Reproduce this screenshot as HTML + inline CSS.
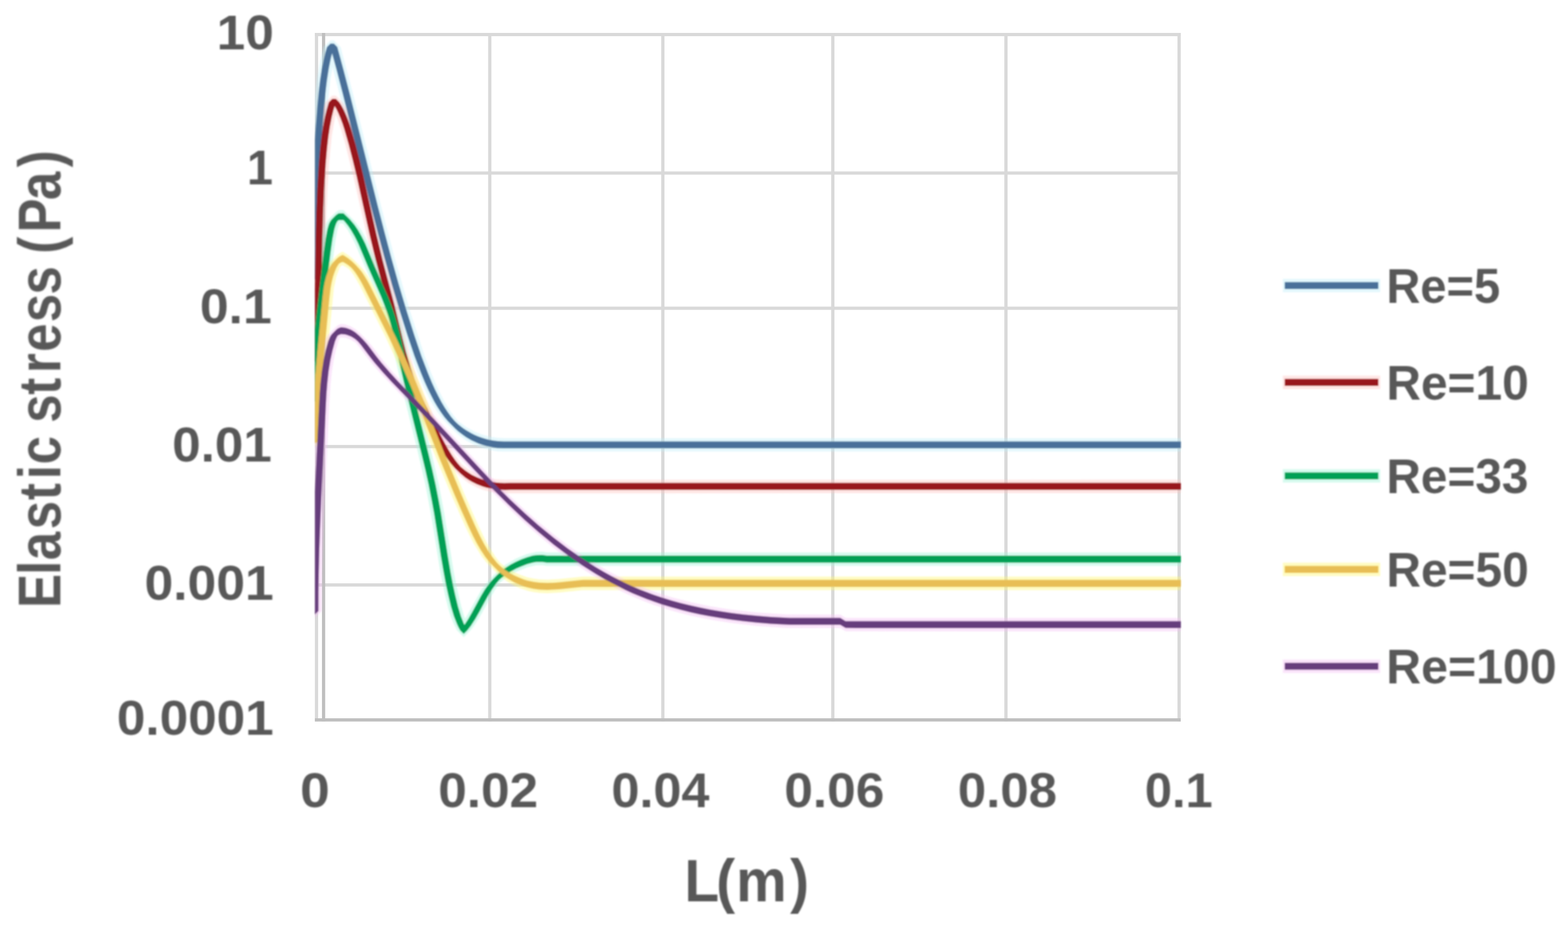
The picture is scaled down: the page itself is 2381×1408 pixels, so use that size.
<!DOCTYPE html>
<html lang="en"><head><meta charset="utf-8"><title>Elastic stress vs L(m)</title>
<style>html,body{margin:0;padding:0;background:#fff}body{width:2381px;height:1408px;overflow:hidden}svg{display:block}text{font-family:'Liberation Sans', sans-serif;font-weight:bold;fill:#595959}</style></head><body>
<svg xmlns="http://www.w3.org/2000/svg" width="2381" height="1408" viewBox="0 0 2381 1408">
<defs><filter id="soft" x="-2%" y="-2%" width="104%" height="104%"><feGaussianBlur stdDeviation="0.8"/></filter></defs>
<rect width="2381" height="1408" fill="#fff"/>
<g fill="#d9d9d9"><rect x="478.2" y="50.0" width="1314.7" height="4.9"/><rect x="478.2" y="260.4" width="1314.7" height="4.9"/><rect x="478.2" y="465.7" width="1314.7" height="4.9"/><rect x="478.2" y="675.8" width="1314.7" height="4.9"/><rect x="478.2" y="886.0" width="1314.7" height="4.9"/><rect x="478.2" y="50.0" width="4.9" height="1045.9"/><rect x="741.3" y="50.0" width="4.9" height="1045.9"/><rect x="1004.1" y="50.0" width="4.9" height="1045.9"/><rect x="1262.2" y="50.0" width="4.9" height="1045.9"/><rect x="1525.1" y="50.0" width="4.9" height="1045.9"/><rect x="1788.0" y="50.0" width="4.9" height="1045.9"/></g>
<g fill="#bfbfbf"><rect x="478.2" y="1091.0" width="1314.7" height="4.9"/><rect x="488.9" y="50.0" width="4.9" height="1045.9"/></g>
<g filter="url(#soft)">
<clipPath id="plot"><rect x="478.3" y="40" width="1314.8" height="1060"/></clipPath>
<g clip-path="url(#plot)">
<g fill-opacity="0.42">
<path d="M467.0 359.4L477.2 349.2L487.4 359.4L487.7 420.0L477.5 430.2L467.3 420.0ZM467.0 359.4L468.4 299.1L478.6 288.9L488.8 299.1L487.4 359.4L477.2 369.6ZM468.4 299.1L471.7 232.8L481.9 222.7L492.1 232.8L488.8 299.1L478.6 309.3ZM471.7 232.8L476.9 160.5L487.1 150.3L497.3 160.5L492.1 232.8L481.9 243.1ZM476.9 160.5L481.1 121.4L491.3 111.2L501.5 121.4L497.3 160.5L487.1 170.7ZM481.1 121.4L486.9 88.9L497.1 78.7L507.2 88.9L501.5 121.4L491.3 131.6ZM486.9 88.9L491.6 71.5L501.8 61.3L512.0 71.5L507.2 88.9L497.1 99.1ZM491.6 71.5L501.8 61.3L507.0 61.3L517.2 71.5L507.0 81.7L501.8 81.7ZM496.8 71.5L507.0 61.3L517.2 71.5L536.5 144.2L526.2 154.3L516.0 144.2ZM516.0 144.2L526.2 133.9L536.5 144.2L578.7 313.3L568.5 323.5L558.3 313.3ZM558.3 313.3L568.5 303.1L578.7 313.3L599.2 391.8L589.0 402.0L578.9 391.8ZM578.9 391.8L589.0 381.6L599.2 391.8L622.6 472.8L612.4 482.9L602.2 472.8ZM602.2 472.8L612.4 462.6L622.6 472.8L645.1 541.5L634.9 551.6L624.7 541.5ZM624.7 541.5L634.9 531.2L645.1 541.5L654.8 566.8L644.6 577.0L634.4 566.8ZM634.4 566.8L644.6 556.6L654.8 566.8L665.6 591.7L655.4 601.9L645.2 591.7ZM645.2 591.7L655.4 581.5L665.6 591.7L675.2 610.5L665.0 620.7L654.8 610.5ZM654.8 610.5L665.0 600.3L675.2 610.5L684.7 625.8L674.5 636.0L664.3 625.8ZM664.3 625.8L674.5 615.5L684.7 625.8L695.6 639.7L685.4 649.9L675.2 639.7ZM675.2 639.7L685.4 629.5L695.9 639.8L706.1 650.0L695.9 660.2L685.4 649.9ZM685.7 650.0L695.9 639.8L707.8 648.6L718.0 658.8L707.8 669.0L695.9 660.2ZM697.6 658.8L707.8 648.6L720.9 655.7L731.0 665.9L720.9 676.1L707.8 669.0ZM710.6 665.9L720.9 655.7L732.0 660.1L742.2 670.3L732.0 680.5L720.9 676.1ZM721.8 670.3L732.0 660.1L743.6 663.2L753.8 673.4L743.6 683.6L732.0 680.5ZM733.4 673.4L743.6 663.2L755.7 665.0L765.9 675.2L755.7 685.4L743.6 683.6ZM745.5 675.2L755.7 665.0L765.0 665.4L775.2 675.6L765.0 685.8L755.7 685.4ZM754.8 675.6L765.0 665.4L1800.0 665.4L1810.2 675.6L1800.0 685.8L765.0 685.8Z" fill="#bfeefa"/>
<path d="M469.8 545.0L472.4 478.9L482.6 468.8L492.8 478.9L490.2 545.0L480.0 555.2ZM472.4 478.9L475.2 325.1L485.4 314.9L495.6 325.1L492.8 478.9L482.6 489.1ZM475.2 325.1L476.8 286.0L487.0 275.8L497.2 286.0L495.6 325.1L485.4 335.4ZM476.8 286.0L479.0 250.0L489.2 239.8L499.4 250.0L497.2 286.0L487.0 296.2ZM479.0 250.0L483.1 208.1L493.3 197.9L503.5 208.1L499.4 250.0L489.2 260.2ZM483.1 208.1L488.1 178.6L498.3 168.4L508.5 178.6L503.5 208.1L493.3 218.3ZM488.1 178.6L494.3 155.5L504.5 145.3L514.7 155.5L508.5 178.6L498.3 188.8ZM494.3 155.5L504.5 145.3L510.0 145.3L520.2 155.5L510.0 165.7L504.5 165.7ZM499.8 155.5L510.0 145.3L520.2 155.5L526.4 165.8L516.2 176.0L506.0 165.8ZM506.0 165.8L516.2 155.6L526.4 165.8L532.5 179.4L522.3 189.6L512.1 179.4ZM512.1 179.4L522.3 169.2L532.5 179.4L538.4 196.4L528.2 206.6L518.0 196.4ZM518.0 196.4L528.2 186.2L538.4 196.4L545.0 219.5L534.8 229.7L524.6 219.5ZM524.6 219.5L534.8 209.3L545.0 219.5L556.7 266.3L546.5 276.5L536.3 266.3ZM536.3 266.3L546.5 256.1L556.7 266.3L586.1 395.5L575.9 405.7L565.7 395.5ZM565.7 395.5L575.9 385.3L586.1 395.5L603.7 462.3L593.5 472.5L583.3 462.3ZM583.3 462.3L593.5 452.1L603.7 462.3L621.5 535.2L611.3 545.4L601.1 535.2ZM601.1 535.2L611.3 525.0L621.5 535.2L628.2 558.2L618.0 568.5L607.8 558.2ZM607.8 558.2L618.0 548.0L628.2 558.2L635.0 578.1L624.8 588.3L614.6 578.1ZM614.6 578.1L624.8 567.9L635.0 578.1L644.1 600.2L633.9 610.4L623.7 600.2ZM623.7 600.2L633.9 590.0L644.1 600.2L656.9 627.5L646.7 637.7L636.5 627.5ZM636.5 627.5L646.7 617.3L656.9 627.5L680.5 673.5L670.3 683.8L660.1 673.5ZM660.1 673.5L670.3 663.4L680.5 673.5L691.2 691.8L681.0 702.0L670.8 691.8ZM670.8 691.8L681.0 681.6L691.2 691.8L699.9 703.8L689.7 714.0L679.5 703.8ZM679.5 703.8L689.7 693.6L699.9 703.8L709.9 714.4L699.7 724.6L689.5 714.4ZM689.5 714.4L699.7 704.2L711.3 713.1L721.5 723.3L711.3 733.5L699.7 724.6ZM701.1 723.3L711.3 713.1L724.3 720.1L734.5 730.3L724.3 740.5L711.3 733.5ZM714.1 730.3L724.3 720.1L732.7 723.3L742.9 733.5L732.7 743.7L724.3 740.5ZM722.5 733.5L732.7 723.3L744.5 726.4L754.6 736.6L744.5 746.8L732.7 743.7ZM734.2 736.6L744.5 726.4L753.5 727.9L763.7 738.1L753.5 748.3L744.5 746.8ZM743.3 738.1L753.5 727.9L765.8 728.8L776.0 739.0L765.8 749.2L753.5 748.3ZM755.6 739.0L765.8 728.8L1800.0 728.6L1810.2 738.8L1800.0 749.0L765.8 749.2Z" fill="#ffc4c0"/>
<path d="M468.6 562.8L478.8 552.6L489.0 562.8L489.2 605.0L479.0 615.2L468.8 605.0ZM468.6 562.8L471.8 511.9L482.0 501.7L492.2 511.9L489.0 562.8L478.8 573.0ZM471.8 511.9L486.4 383.7L496.6 373.5L506.8 383.7L492.2 511.9L482.0 522.1ZM486.4 383.7L489.4 362.8L499.6 352.6L509.8 362.8L506.8 383.7L496.6 393.9ZM489.4 362.8L492.3 347.9L502.5 337.8L512.7 347.9L509.8 362.8L499.6 373.0ZM492.3 347.9L495.0 339.5L505.2 329.3L515.4 339.5L512.7 347.9L502.5 358.1ZM495.0 339.5L499.6 332.5L509.8 322.3L520.0 332.5L515.4 339.5L505.2 349.7ZM499.6 332.5L509.8 322.3L514.5 318.9L524.7 329.1L514.5 339.3L509.8 342.7ZM504.3 329.1L514.5 318.9L521.5 318.9L531.7 329.1L521.5 339.3L514.5 339.3ZM511.3 329.1L521.5 318.9L531.7 329.1L539.8 337.4L529.6 347.6L519.4 337.4ZM519.4 337.4L529.6 327.2L539.8 337.4L548.4 349.2L538.2 359.4L528.0 349.2ZM528.0 349.2L538.2 339.0L548.4 349.2L554.2 359.4L544.0 369.6L533.9 359.4ZM533.9 359.4L544.0 349.2L554.2 359.4L559.5 370.1L549.3 380.3L539.1 370.1ZM539.1 370.1L549.3 359.9L559.5 370.1L594.2 450.6L584.0 460.8L573.8 450.6ZM573.8 450.6L584.0 440.4L594.2 450.6L602.7 472.9L592.5 483.1L582.3 472.9ZM582.3 472.9L592.5 462.7L602.7 472.9L608.8 492.9L598.6 503.1L588.4 492.9ZM588.4 492.9L598.6 482.7L608.8 492.9L614.6 516.2L604.4 526.4L594.2 516.2ZM594.2 516.2L604.4 506.0L614.6 516.2L629.5 583.7L619.3 593.9L609.1 583.7ZM609.1 583.7L619.3 573.5L629.5 583.7L655.4 688.8L645.2 699.0L635.0 688.8ZM635.0 688.8L645.2 678.5L655.4 688.8L666.2 735.6L656.0 745.8L645.8 735.6ZM645.8 735.6L656.0 725.4L666.2 735.6L674.7 779.9L664.5 790.1L654.3 779.9ZM654.3 779.9L664.5 769.7L674.7 779.9L689.1 869.2L679.0 879.4L668.8 869.2ZM668.8 869.2L679.0 859.0L689.1 869.2L696.3 904.4L686.1 914.6L675.9 904.4ZM675.9 904.4L686.1 894.2L696.3 904.4L700.5 921.8L690.3 932.0L680.1 921.8ZM680.1 921.8L690.3 911.6L700.5 921.8L704.8 936.0L694.6 946.2L684.4 936.0ZM684.4 936.0L694.6 925.9L704.8 936.0L709.1 947.1L698.9 957.3L688.7 947.1ZM688.7 947.1L698.9 936.9L709.1 947.1L714.4 957.6L704.2 967.8L694.0 957.6ZM694.0 957.6L699.5 950.5L709.7 940.3L719.9 950.5L714.4 957.6L704.2 967.8ZM699.5 950.5L706.0 940.5L716.2 930.3L726.4 940.5L719.9 950.5L709.7 960.7ZM706.0 940.5L731.0 895.9L741.2 885.7L751.5 895.9L726.4 940.5L716.2 950.7ZM731.0 895.9L738.0 886.3L748.1 876.1L758.4 886.3L751.5 895.9L741.2 906.1ZM738.0 886.3L745.9 877.4L756.1 867.2L766.3 877.4L758.4 886.3L748.1 896.5ZM745.9 877.4L756.1 867.2L767.8 857.6L778.0 867.8L767.8 878.0L756.1 887.6ZM757.6 867.8L767.8 857.6L783.8 848.2L794.0 858.5L783.8 868.6L767.8 878.0ZM773.6 858.5L783.8 848.2L800.4 841.4L810.6 851.5L800.4 861.8L783.8 868.6ZM790.2 851.5L800.4 841.4L814.5 838.2L824.8 848.5L814.5 858.6L800.4 861.8ZM804.4 848.5L814.5 838.2L823.6 838.1L833.8 848.4L823.6 858.5L814.5 858.6ZM813.4 848.4L823.6 838.1L830.0 839.0L840.2 849.2L830.0 859.4L823.6 858.5ZM819.8 849.2L830.0 839.0L1800.0 839.0L1810.2 849.2L1800.0 859.4L830.0 859.4Z" fill="#9ff5d8"/>
<path d="M469.3 668.0L470.1 628.8L480.3 618.6L490.5 628.8L489.7 668.0L479.5 678.2ZM470.1 628.8L472.7 584.0L482.9 573.8L493.1 584.0L490.5 628.8L480.3 639.0ZM472.7 584.0L477.1 533.5L487.3 523.3L497.5 533.5L493.1 584.0L482.9 594.2ZM477.1 533.5L486.6 437.2L496.8 427.0L507.0 437.2L497.5 533.5L487.3 543.7ZM486.6 437.2L490.4 419.8L500.6 409.6L510.8 419.8L507.0 437.2L496.8 447.4ZM490.4 419.8L495.7 406.1L505.9 395.9L516.1 406.1L510.8 419.8L500.6 430.0ZM495.7 406.1L498.7 401.2L508.9 391.0L519.1 401.2L516.1 406.1L505.9 416.3ZM498.7 401.2L502.5 396.9L512.7 386.7L522.9 396.9L519.1 401.2L508.9 411.4ZM502.5 396.9L512.7 386.7L517.5 383.4L527.7 393.6L517.5 403.8L512.7 407.1ZM507.3 393.6L517.5 383.4L520.4 382.3L530.6 392.5L520.4 402.7L517.5 403.8ZM510.2 392.5L520.4 382.3L528.2 386.9L538.4 397.1L528.2 407.3L520.4 402.7ZM518.0 397.1L528.2 386.9L535.0 392.4L545.2 402.6L535.0 412.8L528.2 407.3ZM524.8 402.6L535.0 392.4L545.2 402.6L551.1 408.9L540.9 419.1L530.7 408.9ZM530.7 408.9L540.9 398.7L551.1 408.9L558.0 418.4L547.8 428.6L537.6 418.4ZM537.6 418.4L547.8 408.2L558.0 418.4L566.9 434.1L556.7 444.3L546.5 434.1ZM546.5 434.1L556.7 423.9L566.9 434.1L606.1 512.2L595.9 522.4L585.7 512.2ZM585.7 512.2L595.9 502.0L606.1 512.2L621.2 544.9L611.0 555.1L600.8 544.9ZM600.8 544.9L611.0 534.7L621.2 544.9L636.7 580.8L626.5 591.0L616.3 580.8ZM616.3 580.8L626.5 570.6L636.7 580.8L684.7 700.8L674.5 711.0L664.3 700.8ZM664.3 700.8L674.5 690.6L684.7 700.8L705.3 750.4L695.1 760.6L684.9 750.4ZM684.9 750.4L695.1 740.2L705.3 750.4L727.2 800.3L717.0 810.5L706.8 800.3ZM706.8 800.3L717.0 790.1L727.2 800.3L739.4 825.0L729.2 835.2L719.0 825.0ZM719.0 825.0L729.2 814.8L739.4 825.0L752.1 845.4L741.9 855.6L731.7 845.4ZM731.7 845.4L741.9 835.2L752.1 845.4L759.5 854.7L749.3 864.9L739.1 854.7ZM739.1 854.7L749.3 844.5L759.5 854.7L765.6 861.1L755.4 871.3L745.2 861.1ZM745.2 861.1L755.4 850.9L761.9 856.8L772.1 867.0L761.9 877.1L755.4 871.3ZM751.7 867.0L761.9 856.8L771.5 863.7L781.7 873.9L771.5 884.1L761.9 877.1ZM761.3 873.9L771.5 863.7L781.8 869.5L792.0 879.7L781.8 889.9L771.5 884.1ZM771.6 879.7L781.8 869.5L789.9 873.1L800.1 883.3L789.9 893.5L781.8 889.9ZM779.7 883.3L789.9 873.1L801.2 876.9L811.4 887.1L801.2 897.3L789.9 893.5ZM791.0 887.1L801.2 876.9L810.0 878.8L820.2 889.0L810.0 899.2L801.2 897.3ZM799.8 889.0L810.0 878.8L818.9 880.0L829.1 890.2L818.9 900.4L810.0 899.2ZM808.7 890.2L818.9 880.0L831.0 880.5L841.2 890.7L831.0 900.9L818.9 900.4ZM820.8 890.7L831.0 880.5L849.3 879.5L859.5 889.7L849.3 899.9L831.0 900.9ZM839.1 889.7L849.3 879.5L885.0 875.8L895.2 886.0L885.0 896.2L849.3 899.9ZM874.8 886.0L885.0 875.8L1800.0 875.8L1810.2 886.0L1800.0 896.2L885.0 896.2Z" fill="#fff870"/>
<path d="M468.1 928.0L468.6 867.8L478.9 857.5L489.1 867.8L488.5 928.0L478.3 938.2ZM468.6 867.8L470.7 801.9L480.9 791.7L491.1 801.9L489.1 867.8L478.9 878.0ZM470.7 801.9L479.4 615.7L489.6 605.5L499.8 615.7L491.1 801.9L480.9 812.1ZM479.4 615.7L481.6 582.5L491.8 572.3L502.0 582.5L499.8 615.7L489.6 625.9ZM481.6 582.5L483.6 564.6L493.8 554.4L503.9 564.6L502.0 582.5L491.8 592.7ZM483.6 564.6L486.3 546.9L496.5 536.7L506.7 546.9L503.9 564.6L493.8 574.8ZM486.3 546.9L489.4 532.4L499.6 522.2L509.9 532.4L506.7 546.9L496.5 557.1ZM489.4 532.4L493.4 518.2L503.6 508.0L513.8 518.2L509.9 532.4L499.6 542.6ZM493.4 518.2L495.6 512.9L505.8 502.7L516.0 512.9L513.8 518.2L503.6 528.4ZM495.6 512.9L498.4 508.2L508.6 498.0L518.8 508.2L516.0 512.9L505.8 523.1ZM498.4 508.2L508.6 498.0L512.6 494.3L522.8 504.5L512.6 514.7L508.6 518.4ZM502.4 504.5L512.6 494.3L518.0 492.0L528.2 502.2L518.0 512.4L512.6 514.7ZM507.8 502.2L518.0 492.0L524.1 492.7L534.3 502.9L524.1 513.1L518.0 512.4ZM513.9 502.9L524.1 492.7L532.2 495.4L542.4 505.6L532.2 515.8L524.1 513.1ZM522.0 505.6L532.2 495.4L539.4 499.7L549.6 509.9L539.4 520.1L532.2 515.8ZM529.2 509.9L539.4 499.7L545.8 505.3L556.0 515.5L545.8 525.7L539.4 520.1ZM535.6 515.5L545.8 505.3L556.0 515.5L563.7 524.3L553.5 534.5L543.3 524.3ZM543.3 524.3L553.5 514.1L563.7 524.3L584.0 550.8L573.8 561.0L563.6 550.8ZM563.6 550.8L573.8 540.5L584.0 550.8L597.9 566.7L587.6 576.9L577.5 566.7ZM577.5 566.7L587.6 556.5L597.9 566.7L655.7 627.5L645.5 637.6L635.3 627.5ZM635.3 627.5L645.5 617.2L655.7 627.5L737.1 715.3L726.9 725.5L716.7 715.3ZM716.7 715.3L726.9 705.1L737.1 715.3L762.0 741.2L751.8 751.4L741.6 741.2ZM741.6 741.2L751.8 731.0L775.2 754.2L785.4 764.4L775.2 774.6L751.8 751.4ZM765.0 764.4L775.2 754.2L797.2 774.8L807.4 785.0L797.2 795.2L775.2 774.6ZM787.0 785.0L797.2 774.8L817.5 792.7L827.7 802.9L817.5 813.1L797.2 795.2ZM807.3 802.9L817.5 792.7L840.8 811.8L851.0 822.0L840.8 832.2L817.5 813.1ZM830.6 822.0L840.8 811.8L862.3 828.2L872.5 838.4L862.3 848.6L840.8 832.2ZM852.1 838.4L862.3 828.2L884.5 843.6L894.7 853.8L884.5 864.0L862.3 848.6ZM874.3 853.8L884.5 843.6L904.7 856.4L914.9 866.6L904.7 876.8L884.5 864.0ZM894.5 866.6L904.7 856.4L928.0 869.7L938.2 879.9L928.0 890.1L904.7 876.8ZM917.9 879.9L928.0 869.7L949.4 880.5L959.5 890.7L949.4 900.9L928.0 890.1ZM939.1 890.7L949.4 880.5L971.2 890.2L981.4 900.4L971.2 910.6L949.4 900.9ZM961.0 900.4L971.2 890.2L993.5 898.7L1003.7 908.9L993.5 919.1L971.2 910.6ZM983.3 908.9L993.5 898.7L1019.2 906.9L1029.4 917.1L1019.2 927.3L993.5 919.1ZM1009.0 917.1L1019.2 906.9L1048.3 914.5L1058.5 924.7L1048.3 934.9L1019.2 927.3ZM1038.1 924.7L1048.3 914.5L1077.8 920.7L1088.0 930.9L1077.8 941.1L1048.3 934.9ZM1067.6 930.9L1077.8 920.7L1110.6 925.9L1120.8 936.1L1110.6 946.3L1077.8 941.1ZM1100.4 936.1L1110.6 925.9L1149.5 930.3L1159.7 940.5L1149.5 950.7L1110.6 946.3ZM1139.2 940.5L1149.5 930.3L1194.1 933.3L1204.3 943.5L1194.1 953.7L1149.5 950.7ZM1183.9 943.5L1194.1 933.3L1276.0 933.6L1286.2 943.8L1276.0 954.0L1194.1 953.7ZM1265.8 943.8L1276.0 933.6L1284.0 938.4L1294.2 948.6L1284.0 958.8L1276.0 954.0ZM1273.8 948.6L1284.0 938.4L1800.0 938.6L1810.2 948.8L1800.0 959.0L1284.0 958.8Z" fill="#f5c0f5"/>
</g>
<g>
<path d="M471.9 389.7L477.1 384.5L482.3 389.7L482.7 420.0L477.5 425.2L472.3 420.0ZM471.9 389.7L472.0 359.4L477.2 354.2L482.4 359.4L482.3 389.7L477.1 394.9ZM472.0 359.4L472.5 329.3L477.7 324.1L482.9 329.3L482.4 359.4L477.2 364.6ZM472.5 329.3L473.4 299.1L478.6 293.9L483.8 299.1L482.9 329.3L477.7 334.5ZM473.4 299.1L474.8 266.0L480.0 260.8L485.2 266.0L483.8 299.1L478.6 304.3ZM474.8 266.0L476.7 232.8L481.9 227.7L487.1 232.8L485.2 266.0L480.0 271.2ZM476.7 232.8L479.1 196.7L484.3 191.5L489.5 196.7L487.1 232.8L481.9 238.1ZM479.1 196.7L481.9 160.5L487.1 155.3L492.3 160.5L489.5 196.7L484.3 201.9ZM481.9 160.5L483.9 139.4L489.1 134.2L494.3 139.4L492.3 160.5L487.1 165.7ZM483.9 139.4L486.1 121.4L491.3 116.2L496.5 121.4L494.3 139.4L489.1 144.6ZM486.1 121.4L488.9 103.6L494.1 98.4L499.3 103.6L496.5 121.4L491.3 126.6ZM488.9 103.6L491.9 88.9L497.1 83.7L502.2 88.9L499.3 103.6L494.1 108.8ZM491.9 88.9L494.0 80.1L499.2 74.9L504.4 80.1L502.2 88.9L497.1 94.1ZM494.0 80.1L496.6 71.5L501.8 66.3L507.0 71.5L504.4 80.1L499.2 85.3ZM496.6 71.5L501.8 66.3L507.0 66.3L512.2 71.5L507.0 76.7L501.8 76.7ZM501.8 71.5L507.0 66.3L512.2 71.5L521.6 106.3L516.4 111.5L511.2 106.3ZM511.2 106.3L516.4 101.1L521.6 106.3L531.5 144.2L526.2 149.3L521.0 144.2ZM521.0 144.2L526.2 138.9L531.5 144.2L573.7 313.3L568.5 318.5L563.3 313.3ZM563.3 313.3L568.5 308.1L573.7 313.3L584.2 354.1L579.0 359.3L573.8 354.1ZM573.8 354.1L579.0 348.9L584.2 354.1L594.2 391.8L589.0 397.0L583.9 391.8ZM583.9 391.8L589.0 386.6L594.2 391.8L605.6 432.4L600.4 437.6L595.2 432.4ZM595.2 432.4L600.4 427.2L605.6 432.4L617.6 472.8L612.4 477.9L607.2 472.8ZM607.2 472.8L612.4 467.6L617.6 472.8L629.4 510.1L624.2 515.3L619.0 510.1ZM619.0 510.1L624.2 504.9L629.4 510.1L640.1 541.5L634.9 546.6L629.7 541.5ZM629.7 541.5L634.9 536.2L640.1 541.5L649.8 566.8L644.6 572.0L639.4 566.8ZM639.4 566.8L644.6 561.6L649.8 566.8L655.6 580.7L650.4 585.9L645.2 580.7ZM645.2 580.7L650.4 575.5L655.6 580.7L660.6 591.7L655.4 596.9L650.2 591.7ZM650.2 591.7L655.4 586.5L660.6 591.7L666.0 602.5L660.8 607.7L655.6 602.5ZM655.6 602.5L660.8 597.3L666.0 602.5L670.2 610.5L665.0 615.7L659.8 610.5ZM659.8 610.5L665.0 605.3L670.2 610.5L674.8 618.2L669.6 623.5L664.4 618.2ZM664.4 618.2L669.6 613.0L674.8 618.2L679.7 625.8L674.5 631.0L669.3 625.8ZM669.3 625.8L674.5 620.5L679.7 625.8L684.9 632.9L679.7 638.1L674.5 632.9ZM674.5 632.9L679.7 627.7L684.9 632.9L690.6 639.7L685.4 644.9L680.2 639.7ZM680.2 639.7L685.4 634.5L690.6 639.7L696.8 646.0L691.6 651.2L686.4 646.0ZM686.4 646.0L691.6 640.8L695.9 644.8L701.1 650.0L695.9 655.2L691.6 651.2ZM690.7 650.0L695.9 644.8L702.9 650.2L708.1 655.4L702.9 660.6L695.9 655.2ZM697.7 655.4L702.9 650.2L707.8 653.6L713.0 658.8L707.8 664.0L702.9 660.6ZM702.6 658.8L707.8 653.6L715.5 658.0L720.7 663.2L715.5 668.5L707.8 664.0ZM710.3 663.2L715.5 658.0L720.9 660.7L726.0 665.9L720.9 671.1L715.5 668.5ZM715.6 665.9L720.9 660.7L726.3 663.0L731.5 668.2L726.3 673.4L720.9 671.1ZM721.1 668.2L726.3 663.0L732.0 665.1L737.2 670.3L732.0 675.5L726.3 673.4ZM726.8 670.3L732.0 665.1L737.8 666.8L743.0 672.0L737.8 677.2L732.0 675.5ZM732.5 672.0L737.8 666.8L743.6 668.2L748.8 673.4L743.6 678.6L737.8 677.2ZM738.4 673.4L743.6 668.2L749.6 669.3L754.8 674.5L749.6 679.7L743.6 678.6ZM744.4 674.5L749.6 669.3L755.7 670.0L760.9 675.2L755.7 680.4L749.6 679.7ZM750.5 675.2L755.7 670.0L765.0 670.4L770.2 675.6L765.0 680.8L755.7 680.4ZM759.8 675.6L765.0 670.4L1800.0 670.4L1805.2 675.6L1800.0 680.8L765.0 680.8Z" fill="#4a7099"/>
<path d="M474.8 545.0L476.2 515.0L481.4 509.8L486.6 515.0L485.2 545.0L480.0 550.2ZM476.2 515.0L477.4 478.9L482.6 473.8L487.8 478.9L486.6 515.0L481.4 520.2ZM477.4 478.9L479.2 364.4L484.4 359.1L489.6 364.4L487.8 478.9L482.6 484.1ZM479.2 364.4L480.2 325.1L485.4 319.9L490.6 325.1L489.6 364.4L484.4 369.6ZM480.2 325.1L481.8 286.0L487.0 280.8L492.2 286.0L490.6 325.1L485.4 330.4ZM481.8 286.0L484.0 250.0L489.2 244.8L494.4 250.0L492.2 286.0L487.0 291.2ZM484.0 250.0L486.1 226.0L491.3 220.8L496.5 226.0L494.4 250.0L489.2 255.2ZM486.1 226.0L488.1 208.1L493.3 202.9L498.5 208.1L496.5 226.0L491.3 231.2ZM488.1 208.1L490.3 193.3L495.5 188.1L500.7 193.3L498.5 208.1L493.3 213.3ZM490.3 193.3L493.1 178.6L498.3 173.4L503.5 178.6L500.7 193.3L495.5 198.5ZM493.1 178.6L495.9 167.0L501.1 161.8L506.3 167.0L503.5 178.6L498.3 183.8ZM495.9 167.0L499.3 155.5L504.5 150.3L509.7 155.5L506.3 167.0L501.1 172.2ZM499.3 155.5L504.5 150.3L510.0 150.3L515.2 155.5L510.0 160.7L504.5 160.7ZM504.8 155.5L510.0 150.3L515.2 155.5L518.4 160.6L513.2 165.8L508.0 160.6ZM508.0 160.6L513.2 155.4L518.4 160.6L521.4 165.8L516.2 171.0L511.0 165.8ZM511.0 165.8L516.2 160.6L521.4 165.8L524.0 171.2L518.8 176.4L513.6 171.2ZM513.6 171.2L518.8 166.0L524.0 171.2L527.5 179.4L522.3 184.6L517.1 179.4ZM517.1 179.4L522.3 174.2L527.5 179.4L530.6 187.8L525.4 193.0L520.2 187.8ZM520.2 187.8L525.4 182.6L530.6 187.8L533.4 196.4L528.2 201.6L523.0 196.4ZM523.0 196.4L528.2 191.2L533.4 196.4L540.0 219.5L534.8 224.7L529.6 219.5ZM529.6 219.5L534.8 214.3L540.0 219.5L546.0 242.8L540.8 248.0L535.6 242.8ZM535.6 242.8L540.8 237.6L546.0 242.8L551.7 266.3L546.5 271.5L541.3 266.3ZM541.3 266.3L546.5 261.1L551.7 266.3L572.0 357.5L566.8 362.7L561.6 357.5ZM561.6 357.5L566.8 352.3L572.0 357.5L581.1 395.5L575.9 400.7L570.7 395.5ZM570.7 395.5L575.9 390.3L581.1 395.5L598.7 462.3L593.5 467.5L588.3 462.3ZM588.3 462.3L593.5 457.1L598.7 462.3L611.3 514.8L606.1 520.0L600.9 514.8ZM600.9 514.8L606.1 509.6L611.3 514.8L616.5 535.2L611.3 540.4L606.1 535.2ZM606.1 535.2L611.3 530.0L616.5 535.2L623.2 558.2L618.0 563.5L612.8 558.2ZM612.8 558.2L618.0 553.0L623.2 558.2L630.0 578.1L624.8 583.3L619.6 578.1ZM619.6 578.1L624.8 572.9L630.0 578.1L634.4 589.2L629.2 594.4L624.0 589.2ZM624.0 589.2L629.2 584.0L634.4 589.2L639.1 600.2L633.9 605.4L628.7 600.2ZM628.7 600.2L633.9 595.0L639.1 600.2L645.4 613.9L640.2 619.1L635.0 613.9ZM635.0 613.9L640.2 608.7L645.4 613.9L651.9 627.5L646.7 632.7L641.5 627.5ZM641.5 627.5L646.7 622.3L651.9 627.5L675.5 673.5L670.3 678.8L665.1 673.5ZM665.1 673.5L670.3 668.4L675.5 673.5L681.4 684.1L676.2 689.4L671.0 684.1ZM671.0 684.1L676.2 679.0L681.4 684.1L686.2 691.8L681.0 697.0L675.8 691.8ZM675.8 691.8L681.0 686.6L686.2 691.8L691.2 699.1L686.0 704.3L680.9 699.1ZM680.9 699.1L686.0 693.9L691.2 699.1L694.9 703.8L689.7 709.0L684.5 703.8ZM684.5 703.8L689.7 698.6L694.9 703.8L700.7 710.4L695.5 715.5L690.3 710.4ZM690.3 710.4L695.5 705.1L699.7 709.2L704.9 714.4L699.7 719.6L695.5 715.5ZM694.5 714.4L699.7 709.2L706.5 714.8L711.7 720.0L706.5 725.2L699.7 719.6ZM701.3 720.0L706.5 714.8L711.3 718.1L716.5 723.3L711.3 728.5L706.5 725.2ZM706.1 723.3L711.3 718.1L716.3 721.2L721.5 726.4L716.3 731.6L711.3 728.5ZM711.1 726.4L716.3 721.2L724.3 725.1L729.5 730.3L724.3 735.5L716.3 731.6ZM719.1 730.3L724.3 725.1L732.7 728.3L737.9 733.5L732.7 738.7L724.3 735.5ZM727.5 733.5L732.7 728.3L738.5 730.0L743.7 735.2L738.5 740.4L732.7 738.7ZM733.3 735.2L738.5 730.0L744.5 731.4L749.6 736.6L744.5 741.8L738.5 740.4ZM739.2 736.6L744.5 731.4L753.5 732.9L758.7 738.1L753.5 743.3L744.5 741.8ZM748.3 738.1L753.5 732.9L759.6 733.5L764.8 738.7L759.6 743.9L753.5 743.3ZM754.4 738.7L759.6 733.5L765.8 733.8L771.0 739.0L765.8 744.2L759.6 743.9ZM760.6 739.0L765.8 733.8L775.0 733.6L780.2 738.8L775.0 744.0L765.8 744.2ZM769.8 738.8L775.0 733.6L1800.0 733.6L1805.2 738.8L1800.0 744.0L775.0 744.0Z" fill="#98151a"/>
<path d="M473.3 583.9L478.5 578.7L483.7 583.9L484.2 605.0L479.0 610.2L473.8 605.0ZM473.3 583.9L473.6 562.8L478.8 557.6L484.0 562.8L483.7 583.9L478.5 589.1ZM473.6 562.8L474.7 538.8L479.9 533.6L485.1 538.8L484.0 562.8L478.8 568.0ZM474.7 538.8L476.8 511.9L482.0 506.7L487.2 511.9L485.1 538.8L479.9 544.0ZM476.8 511.9L480.6 476.1L485.8 470.9L490.9 476.1L487.2 511.9L482.0 517.1ZM480.6 476.1L491.4 383.7L496.6 378.5L501.8 383.7L490.9 476.1L485.8 481.3ZM491.4 383.7L494.4 362.8L499.6 357.6L504.8 362.8L501.8 383.7L496.6 388.9ZM494.4 362.8L497.3 347.9L502.5 342.8L507.7 347.9L504.8 362.8L499.6 368.0ZM497.3 347.9L499.0 342.2L504.2 337.0L509.4 342.2L507.7 347.9L502.5 353.1ZM499.0 342.2L500.0 339.5L505.2 334.3L510.4 339.5L509.4 342.2L504.2 347.4ZM500.0 339.5L501.3 337.0L506.5 331.8L511.7 337.0L510.4 339.5L505.2 344.7ZM501.3 337.0L502.8 334.6L508.0 329.4L513.2 334.6L511.7 337.0L506.5 342.2ZM502.8 334.6L504.6 332.5L509.8 327.3L515.0 332.5L513.2 334.6L508.0 339.9ZM504.6 332.5L509.8 327.3L512.0 325.5L517.2 330.7L512.0 335.9L509.8 337.7ZM506.8 330.7L512.0 325.5L514.5 323.9L519.7 329.1L514.5 334.3L512.0 335.9ZM509.3 329.1L514.5 323.9L521.5 323.9L526.7 329.1L521.5 334.3L514.5 334.3ZM516.3 329.1L521.5 323.9L525.7 327.9L530.9 333.1L525.7 338.3L521.5 334.3ZM520.5 333.1L525.7 327.9L530.9 333.1L534.8 337.4L529.6 342.6L524.4 337.4ZM524.4 337.4L529.6 332.2L534.8 337.4L538.5 342.0L533.2 347.2L528.0 342.0ZM528.0 342.0L533.2 336.8L538.5 342.0L543.4 349.2L538.2 354.4L533.0 349.2ZM533.0 349.2L538.2 344.0L543.4 349.2L549.2 359.4L544.0 364.6L538.9 359.4ZM538.9 359.4L544.0 354.2L549.2 359.4L554.5 370.1L549.3 375.3L544.1 370.1ZM544.1 370.1L549.3 364.9L554.5 370.1L569.8 406.5L564.6 411.7L559.4 406.5ZM559.4 406.5L564.6 401.3L569.8 406.5L589.2 450.6L584.0 455.8L578.8 450.6ZM578.8 450.6L584.0 445.4L589.2 450.6L593.6 461.7L588.5 466.9L583.2 461.7ZM583.2 461.7L588.5 456.5L593.6 461.7L597.7 472.9L592.5 478.1L587.3 472.9ZM587.3 472.9L592.5 467.7L597.7 472.9L600.5 481.4L595.3 486.6L590.1 481.4ZM590.1 481.4L595.3 476.2L600.5 481.4L603.8 492.9L598.6 498.1L593.4 492.9ZM593.4 492.9L598.6 487.7L603.8 492.9L609.6 516.2L604.4 521.4L599.2 516.2ZM599.2 516.2L604.4 511.0L609.6 516.2L619.2 560.3L614.0 565.5L608.8 560.3ZM608.8 560.3L614.0 555.1L619.2 560.3L624.5 583.7L619.3 588.9L614.1 583.7ZM614.1 583.7L619.3 578.5L624.5 583.7L650.4 688.8L645.2 694.0L640.0 688.8ZM640.0 688.8L645.2 683.5L650.4 688.8L656.0 712.1L650.8 717.3L645.6 712.1ZM645.6 712.1L650.8 706.9L656.0 712.1L661.2 735.6L656.0 740.8L650.8 735.6ZM650.8 735.6L656.0 730.4L661.2 735.6L665.9 759.2L660.7 764.4L655.5 759.2ZM655.5 759.2L660.7 754.0L665.9 759.2L669.7 779.9L664.5 785.1L659.3 779.9ZM659.3 779.9L664.5 774.7L669.7 779.9L680.1 845.4L674.9 850.6L669.7 845.4ZM669.7 845.4L674.9 840.2L680.1 845.4L684.1 869.2L679.0 874.4L673.8 869.2ZM673.8 869.2L679.0 864.0L684.1 869.2L687.5 886.9L682.3 892.1L677.1 886.9ZM677.1 886.9L682.3 881.7L687.5 886.9L691.3 904.4L686.1 909.6L680.9 904.4ZM680.9 904.4L686.1 899.2L691.3 904.4L695.5 921.8L690.3 927.0L685.1 921.8ZM685.1 921.8L690.3 916.6L695.5 921.8L699.8 936.0L694.6 941.2L689.4 936.0ZM689.4 936.0L694.6 930.9L699.8 936.0L704.1 947.1L698.9 952.3L693.7 947.1ZM693.7 947.1L698.9 941.9L704.1 947.1L706.6 952.4L701.4 957.6L696.2 952.4ZM696.2 952.4L701.4 947.2L706.6 952.4L709.4 957.6L704.2 962.8L699.0 957.6ZM699.0 957.6L704.5 950.5L709.7 945.3L714.9 950.5L709.4 957.6L704.2 962.8ZM704.5 950.5L711.0 940.5L716.2 935.3L721.4 940.5L714.9 950.5L709.7 955.7ZM711.0 940.5L717.0 930.0L722.2 924.8L727.4 930.0L721.4 940.5L716.2 945.7ZM717.0 930.0L729.9 906.2L735.1 901.0L740.3 906.2L727.4 930.0L722.2 935.2ZM729.9 906.2L736.0 895.9L741.2 890.7L746.5 895.9L740.3 906.2L735.1 911.4ZM736.0 895.9L743.0 886.3L748.1 881.1L753.4 886.3L746.5 895.9L741.2 901.1ZM743.0 886.3L746.8 881.7L752.0 876.5L757.2 881.7L753.4 886.3L748.1 891.5ZM746.8 881.7L750.9 877.4L756.1 872.2L761.3 877.4L757.2 881.7L752.0 886.9ZM750.9 877.4L756.1 872.2L760.5 868.2L765.7 873.4L760.5 878.6L756.1 882.6ZM755.3 873.4L760.5 868.2L767.8 862.6L773.0 867.8L767.8 873.0L760.5 878.6ZM762.6 867.8L767.8 862.6L775.6 857.6L780.8 862.8L775.6 868.0L767.8 873.0ZM770.4 862.8L775.6 857.6L783.8 853.2L789.0 858.5L783.8 863.6L775.6 868.0ZM778.6 858.5L783.8 853.2L792.1 849.5L797.3 854.7L792.1 859.9L783.8 863.6ZM786.9 854.7L792.1 849.5L800.4 846.4L805.6 851.5L800.4 856.8L792.1 859.9ZM795.2 851.5L800.4 846.4L808.8 844.1L814.0 849.3L808.8 854.5L800.4 856.8ZM803.6 849.3L808.8 844.1L814.5 843.2L819.8 848.5L814.5 853.6L808.8 854.5ZM809.4 848.5L814.5 843.2L820.5 843.0L825.7 848.2L820.5 853.4L814.5 853.6ZM815.3 848.2L820.5 843.0L823.6 843.1L828.8 848.4L823.6 853.5L820.5 853.4ZM818.4 848.4L823.6 843.1L830.0 844.0L835.2 849.2L830.0 854.4L823.6 853.5ZM824.8 849.2L830.0 844.0L1800.0 844.0L1805.2 849.2L1800.0 854.4L830.0 854.4Z" fill="#00a055"/>
<path d="M474.3 668.0L474.5 649.8L479.7 644.6L484.9 649.8L484.7 668.0L479.5 673.2ZM474.5 649.8L475.1 628.8L480.3 623.6L485.5 628.8L484.9 649.8L479.7 655.0ZM475.1 628.8L476.2 607.8L481.4 602.6L486.6 607.8L485.5 628.8L480.3 634.0ZM476.2 607.8L477.7 584.0L482.9 578.8L488.1 584.0L486.6 607.8L481.4 613.0ZM477.7 584.0L482.1 533.5L487.3 528.3L492.5 533.5L488.1 584.0L482.9 589.2ZM482.1 533.5L489.8 452.3L495.0 447.1L500.2 452.3L492.5 533.5L487.3 538.7ZM489.8 452.3L491.6 437.2L496.8 432.0L502.0 437.2L500.2 452.3L495.0 457.5ZM491.6 437.2L493.2 428.4L498.4 423.2L503.6 428.4L502.0 437.2L496.8 442.4ZM493.2 428.4L495.4 419.8L500.6 414.6L505.8 419.8L503.6 428.4L498.4 433.6ZM495.4 419.8L498.3 411.5L503.5 406.3L508.7 411.5L505.8 419.8L500.6 425.0ZM498.3 411.5L500.7 406.1L505.9 400.9L511.1 406.1L508.7 411.5L503.5 416.7ZM500.7 406.1L503.7 401.2L508.9 396.0L514.1 401.2L511.1 406.1L505.9 411.3ZM503.7 401.2L505.5 398.9L510.7 393.7L515.9 398.9L514.1 401.2L508.9 406.4ZM505.5 398.9L507.5 396.9L512.7 391.7L517.9 396.9L515.9 398.9L510.7 404.1ZM507.5 396.9L512.7 391.7L515.0 389.9L520.1 395.1L515.0 400.3L512.7 402.1ZM509.8 395.1L515.0 389.9L517.5 388.4L522.7 393.6L517.5 398.8L515.0 400.3ZM512.3 393.6L517.5 388.4L520.4 387.3L525.6 392.5L520.4 397.7L517.5 398.8ZM515.2 392.5L520.4 387.3L523.1 388.7L528.3 393.9L523.1 399.1L520.4 397.7ZM517.9 393.9L523.1 388.7L528.2 391.9L533.4 397.1L528.2 402.3L523.1 399.1ZM523.0 397.1L528.2 391.9L535.0 397.4L540.2 402.6L535.0 407.8L528.2 402.3ZM529.8 402.6L535.0 397.4L540.2 402.6L546.1 408.9L540.9 414.1L535.7 408.9ZM535.7 408.9L540.9 403.7L546.1 408.9L549.7 413.6L544.5 418.8L539.3 413.6ZM539.3 413.6L544.5 408.4L549.7 413.6L553.0 418.4L547.8 423.6L542.6 418.4ZM542.6 418.4L547.8 413.2L553.0 418.4L557.6 426.1L552.4 431.3L547.2 426.1ZM547.2 426.1L552.4 420.9L557.6 426.1L561.9 434.1L556.7 439.3L551.5 434.1ZM551.5 434.1L556.7 428.9L561.9 434.1L601.1 512.2L595.9 517.4L590.7 512.2ZM590.7 512.2L595.9 507.0L601.1 512.2L616.2 544.9L611.0 550.1L605.8 544.9ZM605.8 544.9L611.0 539.7L616.2 544.9L631.7 580.8L626.5 586.0L621.3 580.8ZM621.3 580.8L626.5 575.6L631.7 580.8L646.5 617.1L641.3 622.3L636.1 617.1ZM636.1 617.1L641.3 611.9L646.5 617.1L679.7 700.8L674.5 706.0L669.3 700.8ZM669.3 700.8L674.5 695.6L679.7 700.8L700.3 750.4L695.1 755.6L689.9 750.4ZM689.9 750.4L695.1 745.2L700.3 750.4L711.0 775.3L705.8 780.5L700.6 775.3ZM700.6 775.3L705.8 770.1L711.0 775.3L722.2 800.3L717.0 805.5L711.8 800.3ZM711.8 800.3L717.0 795.1L722.2 800.3L728.8 814.2L723.6 819.4L718.4 814.2ZM718.4 814.2L723.6 809.0L728.8 814.2L734.4 825.0L729.2 830.2L724.0 825.0ZM724.0 825.0L729.2 819.8L734.4 825.0L740.5 835.5L735.3 840.7L730.1 835.5ZM730.1 835.5L735.3 830.3L740.5 835.5L747.1 845.4L741.9 850.6L736.7 845.4ZM736.7 845.4L741.9 840.2L747.1 845.4L754.5 854.7L749.3 859.9L744.1 854.7ZM744.1 854.7L749.3 849.5L754.5 854.7L760.6 861.1L755.4 866.3L750.2 861.1ZM750.2 861.1L755.4 855.9L761.9 861.8L767.1 867.0L761.9 872.1L755.4 866.3ZM756.7 867.0L761.9 861.8L766.6 865.4L771.8 870.5L766.6 875.8L761.9 872.1ZM761.4 870.5L766.6 865.4L771.5 868.7L776.7 873.9L771.5 879.1L766.6 875.8ZM766.3 873.9L771.5 868.7L776.5 871.7L781.7 876.9L776.5 882.1L771.5 879.1ZM771.3 876.9L776.5 871.7L781.8 874.5L787.0 879.7L781.8 884.9L776.5 882.1ZM776.6 879.7L781.8 874.5L789.9 878.1L795.1 883.3L789.9 888.5L781.8 884.9ZM784.7 883.3L789.9 878.1L795.5 880.2L800.7 885.4L795.5 890.6L789.9 888.5ZM790.3 885.4L795.5 880.2L801.2 881.9L806.4 887.1L801.2 892.3L795.5 890.6ZM796.0 887.1L801.2 881.9L810.0 883.8L815.2 889.0L810.0 894.2L801.2 892.3ZM804.8 889.0L810.0 883.8L818.9 885.0L824.1 890.2L818.9 895.4L810.0 894.2ZM813.7 890.2L818.9 885.0L831.0 885.5L836.2 890.7L831.0 895.9L818.9 895.4ZM825.8 890.7L831.0 885.5L840.2 885.2L845.4 890.4L840.2 895.6L831.0 895.9ZM835.0 890.4L840.2 885.2L849.3 884.5L854.5 889.7L849.3 894.9L840.2 895.6ZM844.1 889.7L849.3 884.5L885.0 880.8L890.2 886.0L885.0 891.2L849.3 894.9ZM879.8 886.0L885.0 880.8L1800.0 880.8L1805.2 886.0L1800.0 891.2L885.0 891.2Z" fill="#e8be55"/>
<path d="M473.1 928.0L473.2 897.8L478.4 892.6L483.6 897.8L483.5 928.0L478.3 933.2ZM473.2 897.8L473.6 867.8L478.9 862.5L484.1 867.8L483.6 897.8L478.4 903.0ZM473.6 867.8L474.5 834.8L479.7 829.6L484.9 834.8L484.1 867.8L478.9 873.0ZM474.5 834.8L475.7 801.9L480.9 796.7L486.1 801.9L484.9 834.8L479.7 840.0ZM475.7 801.9L477.7 754.0L482.9 748.9L488.1 754.0L486.1 801.9L480.9 807.1ZM477.7 754.0L484.4 615.7L489.6 610.5L494.8 615.7L488.1 754.0L482.9 759.2ZM484.4 615.7L485.4 597.5L490.6 592.3L495.8 597.5L494.8 615.7L489.6 620.9ZM485.4 597.5L486.6 582.5L491.8 577.3L497.0 582.5L495.8 597.5L490.6 602.7ZM486.6 582.5L488.6 564.6L493.8 559.4L498.9 564.6L497.0 582.5L491.8 587.7ZM488.6 564.6L491.3 546.9L496.5 541.7L501.7 546.9L498.9 564.6L493.8 569.8ZM491.3 546.9L494.4 532.4L499.6 527.2L504.9 532.4L501.7 546.9L496.5 552.1ZM494.4 532.4L498.4 518.2L503.6 513.0L508.8 518.2L504.9 532.4L499.6 537.6ZM498.4 518.2L500.6 512.9L505.8 507.7L511.0 512.9L508.8 518.2L503.6 523.4ZM500.6 512.9L501.9 510.4L507.1 505.2L512.3 510.4L511.0 512.9L505.8 518.1ZM501.9 510.4L503.4 508.2L508.6 503.0L513.8 508.2L512.3 510.4L507.1 515.6ZM503.4 508.2L505.3 506.2L510.5 501.0L515.7 506.2L513.8 508.2L508.6 513.4ZM505.3 506.2L510.5 501.0L512.6 499.3L517.8 504.5L512.6 509.7L510.5 511.4ZM507.4 504.5L512.6 499.3L515.1 498.0L520.3 503.2L515.1 508.4L512.6 509.7ZM509.9 503.2L515.1 498.0L518.0 497.0L523.2 502.2L518.0 507.4L515.1 508.4ZM512.8 502.2L518.0 497.0L524.1 497.7L529.3 502.9L524.1 508.1L518.0 507.4ZM518.9 502.9L524.1 497.7L526.9 498.4L532.1 503.6L526.9 508.8L524.1 508.1ZM521.7 503.6L526.9 498.4L532.2 500.4L537.4 505.6L532.2 510.8L526.9 508.8ZM527.0 505.6L532.2 500.4L534.7 501.7L539.9 506.9L534.7 512.1L532.2 510.8ZM529.5 506.9L534.7 501.7L539.4 504.7L544.6 509.9L539.4 515.1L534.7 512.1ZM534.2 509.9L539.4 504.7L545.8 510.3L551.0 515.5L545.8 520.7L539.4 515.1ZM540.6 515.5L545.8 510.3L551.0 515.5L554.9 519.8L549.7 525.0L544.5 519.8ZM544.5 519.8L549.7 514.6L554.9 519.8L558.7 524.3L553.5 529.5L548.3 524.3ZM548.3 524.3L553.5 519.1L558.7 524.3L571.5 541.3L566.3 546.5L561.1 541.3ZM561.1 541.3L566.3 536.1L571.5 541.3L579.0 550.8L573.8 556.0L568.6 550.8ZM568.6 550.8L573.8 545.5L579.0 550.8L592.9 566.7L587.6 571.9L582.5 566.7ZM582.5 566.7L587.6 561.5L592.9 566.7L605.1 579.9L599.9 585.1L594.7 579.9ZM594.7 579.9L599.9 574.7L605.1 579.9L632.2 607.9L627.0 613.1L621.8 607.9ZM621.8 607.9L627.0 602.7L632.2 607.9L650.7 627.5L645.5 632.6L640.3 627.5ZM640.3 627.5L645.5 622.2L650.7 627.5L732.1 715.3L726.9 720.5L721.7 715.3ZM721.7 715.3L726.9 710.1L732.1 715.3L757.0 741.2L751.8 746.4L746.6 741.2ZM746.6 741.2L751.8 736.0L775.2 759.2L780.4 764.4L775.2 769.6L751.8 746.4ZM770.0 764.4L775.2 759.2L797.2 779.8L802.4 785.0L797.2 790.2L775.2 769.6ZM792.0 785.0L797.2 779.8L817.5 797.7L822.7 802.9L817.5 808.1L797.2 790.2ZM812.3 802.9L817.5 797.7L840.8 816.8L846.0 822.0L840.8 827.2L817.5 808.1ZM835.6 822.0L840.8 816.8L862.3 833.2L867.5 838.4L862.3 843.6L840.8 827.2ZM857.1 838.4L862.3 833.2L884.5 848.6L889.7 853.8L884.5 859.0L862.3 843.6ZM879.3 853.8L884.5 848.6L904.7 861.4L909.9 866.6L904.7 871.8L884.5 859.0ZM899.5 866.6L904.7 861.4L917.6 869.0L922.8 874.2L917.6 879.4L904.7 871.8ZM912.4 874.2L917.6 869.0L928.0 874.7L933.2 879.9L928.0 885.1L917.6 879.4ZM922.9 879.9L928.0 874.7L949.4 885.5L954.5 890.7L949.4 895.9L928.0 885.1ZM944.1 890.7L949.4 885.5L960.2 890.5L965.4 895.7L960.2 900.9L949.4 895.9ZM955.0 895.7L960.2 890.5L971.2 895.2L976.4 900.4L971.2 905.6L960.2 900.9ZM966.0 900.4L971.2 895.2L982.3 899.6L987.5 904.8L982.3 910.0L971.2 905.6ZM977.1 904.8L982.3 899.6L993.5 903.7L998.7 908.9L993.5 914.1L982.3 910.0ZM988.3 908.9L993.5 903.7L1004.9 907.5L1010.0 912.7L1004.9 917.9L993.5 914.1ZM999.6 912.7L1004.9 907.5L1019.2 911.9L1024.4 917.1L1019.2 922.3L1004.9 917.9ZM1014.0 917.1L1019.2 911.9L1033.7 915.9L1038.9 921.1L1033.7 926.3L1019.2 922.3ZM1028.5 921.1L1033.7 915.9L1048.3 919.5L1053.5 924.7L1048.3 929.9L1033.7 926.3ZM1043.1 924.7L1048.3 919.5L1063.0 922.8L1068.2 928.0L1063.0 933.2L1048.3 929.9ZM1057.8 928.0L1063.0 922.8L1077.8 925.7L1083.0 930.9L1077.8 936.1L1063.0 933.2ZM1072.6 930.9L1077.8 925.7L1092.7 928.2L1097.9 933.4L1092.7 938.6L1077.8 936.1ZM1087.5 933.4L1092.7 928.2L1110.6 930.9L1115.8 936.1L1110.6 941.3L1092.7 938.6ZM1105.4 936.1L1110.6 930.9L1128.5 933.2L1133.7 938.4L1128.5 943.6L1110.6 941.3ZM1123.3 938.4L1128.5 933.2L1149.5 935.3L1154.7 940.5L1149.5 945.7L1128.5 943.6ZM1144.2 940.5L1149.5 935.3L1170.3 937.0L1175.5 942.1L1170.3 947.4L1149.5 945.7ZM1165.1 942.1L1170.3 937.0L1194.1 938.3L1199.3 943.5L1194.1 948.7L1170.3 947.4ZM1188.9 943.5L1194.1 938.3L1200.0 938.6L1205.2 943.8L1200.0 949.0L1194.1 948.7ZM1194.8 943.8L1200.0 938.6L1276.0 938.6L1281.2 943.8L1276.0 949.0L1200.0 949.0ZM1270.8 943.8L1276.0 938.6L1284.0 943.4L1289.2 948.6L1284.0 953.8L1276.0 949.0ZM1278.8 948.6L1284.0 943.4L1300.0 943.6L1305.2 948.8L1300.0 954.0L1284.0 953.8ZM1294.8 948.8L1300.0 943.6L1800.0 943.6L1805.2 948.8L1800.0 954.0L1300.0 954.0Z" fill="#663d7c"/>
</g>
</g>
<g>
<rect x="1947.9" y="423.5" width="148.0" height="20.4" fill="#bfeefa" fill-opacity="0.42"/>
<rect x="1950.9" y="428.5" width="142.0" height="10.4" fill="#4a7099"/>
<rect x="1947.9" y="570.6" width="148.0" height="20.4" fill="#ffc4c0" fill-opacity="0.42"/>
<rect x="1950.9" y="575.6" width="142.0" height="10.4" fill="#98151a"/>
<rect x="1947.9" y="712.6" width="148.0" height="20.4" fill="#9ff5d8" fill-opacity="0.42"/>
<rect x="1950.9" y="717.6" width="142.0" height="10.4" fill="#00a055"/>
<rect x="1947.9" y="854.6" width="148.0" height="20.4" fill="#fff870" fill-opacity="0.42"/>
<rect x="1950.9" y="859.6" width="142.0" height="10.4" fill="#e8be55"/>
<rect x="1947.9" y="1001.8" width="148.0" height="20.4" fill="#f5c0f5" fill-opacity="0.42"/>
<rect x="1950.9" y="1006.8" width="142.0" height="10.4" fill="#663d7c"/>
</g>
<g>
<text transform="translate(2105.22 459.60) scale(0.9654 1)" font-size="74.00">Re=5</text>
<text transform="translate(2105.14 606.70) scale(0.9824 1)" font-size="74.00">Re=10</text>
<text transform="translate(2105.15 748.70) scale(0.9807 1)" font-size="74.00">Re=33</text>
<text transform="translate(2105.14 890.70) scale(0.9824 1)" font-size="74.00">Re=50</text>
<text transform="translate(2105.10 1037.90) scale(0.9902 1)" font-size="74.00">Re=100</text>
<text transform="translate(329.10 75.20) scale(1.0521 1)" font-size="74.00">10</text>
<text transform="translate(375.03 280.40) scale(0.9583 1)" font-size="74.00">1</text>
<text transform="translate(303.39 490.60) scale(1.0625 1)" font-size="74.00">0.1</text>
<text transform="translate(261.43 700.80) scale(1.0501 1)" font-size="74.00">0.01</text>
<text transform="translate(219.40 911.00) scale(1.0600 1)" font-size="74.00">0.001</text>
<text transform="translate(177.42 1116.00) scale(1.0526 1)" font-size="74.00">0.0001</text>
<text transform="translate(455.80 1226.30) scale(1.0940 1)" font-size="74.00">0</text>
<text transform="translate(665.42 1226.30) scale(1.0533 1)" font-size="74.00">0.02</text>
<text transform="translate(928.47 1226.30) scale(1.0341 1)" font-size="74.00">0.04</text>
<text transform="translate(1190.91 1226.30) scale(1.0547 1)" font-size="74.00">0.06</text>
<text transform="translate(1454.44 1226.30) scale(1.0445 1)" font-size="74.00">0.08</text>
<text transform="translate(1738.57 1226.30) scale(1.0012 1)" font-size="74.00">0.1</text>
<text transform="scale(0.9500 1)" x="1093.9 1144.8 1176.7 1263.0" y="1368.6" font-size="91.0">L(m)</text>
<text transform="translate(91.6 1000.0) rotate(-90) scale(0.8500 1)" x="90.3 149.4 175.5 230.8 282.9 320.1 346.7 397.3 421.2 471.0 509.9 547.8 600.9 650.3 700.9 723.2 761.0 819.0 877.4" y="0" font-size="91.0" xml:space="preserve">Elastic stress (Pa)</text>
</g>
</g>
</svg></body></html>
